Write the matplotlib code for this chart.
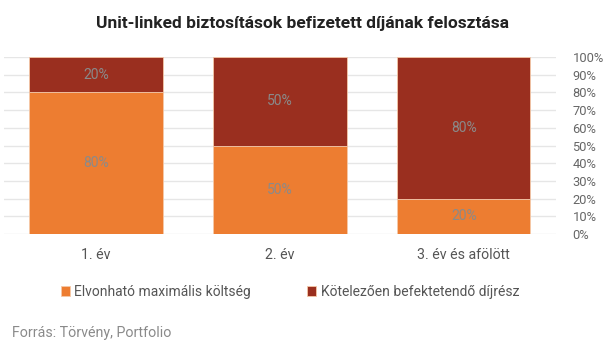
import numpy as np
import matplotlib.pyplot as plt

plt.rcParams['font.family'] = ['Roboto', 'DejaVu Sans']

years = ['1. év', '2. év', '3. év és afölött']
cost = [80, 50, 20]       # Elvonható maximális költség
invest = [20, 50, 80]     # Kötelezően befektetendő díjrész
yticks = np.arange(0, 101, 10)

orange = '#ED7D31'
darkred = '#9A2F1F'

fig = plt.figure(figsize=(6.05, 3.49), dpi=100)
ax = fig.add_axes([0.0066, 0.3295, 0.912, 0.507])

x = np.arange(len(years))
b1 = ax.bar(x, cost, width=0.725, color=orange, edgecolor='#f5c9a8', linewidth=0.6,
            label='Elvonható maximális költség', zorder=3)
b2 = ax.bar(x, invest, width=0.725, bottom=cost, color=darkred, edgecolor='#f5c9a8',
            linewidth=0.6, label='Kötelezően befektetendő díjrész', zorder=3)

for xi, c, v in zip(x, cost, invest):
    ax.text(xi, c / 2, f'{c}%', ha='center', va='center', color='#8a8a8a', fontsize=10, zorder=4)
    ax.text(xi, c + v / 2, f'{v}%', ha='center', va='center', color='#8a8a8a', fontsize=10, zorder=4)

ax.set_xlim(-0.5, 2.5)
ax.set_ylim(0, 100)
ax.set_yticks(yticks)
ax.set_yticklabels([f'{t}%' for t in yticks])
ax.yaxis.tick_right()
ax.grid(axis='y', color='#e6e6e6', linewidth=1, zorder=0)
ax.tick_params(axis='y', length=0, pad=12, labelsize=9.3, labelcolor='#666666')
ax.set_xticks(x)
ax.set_xticklabels(years)
ax.tick_params(axis='x', length=0, pad=10, labelsize=10.2, labelcolor='#555555')
for s in ax.spines.values():
    s.set_visible(False)

fig.text(0.5, 0.933, 'Unit-linked biztosítások befizetett díjának felosztása',
         ha='center', va='center', fontsize=12.5, fontweight='bold', color='#222222')

fig.legend(handles=[b1, b2], loc='center', bbox_to_anchor=(0.479, 0.163), ncol=2,
           frameon=False, fontsize=10, handlelength=0.7, handleheight=0.7,
           handletextpad=0.3, columnspacing=4.0, labelcolor='#555555')

fig.text(0.02, 0.046, 'Forrás: Törvény, Portfolio', ha='left', va='center',
         fontsize=10.3, color='#8a8a8a')

fig.savefig('out.png', dpi=100, facecolor='white')
